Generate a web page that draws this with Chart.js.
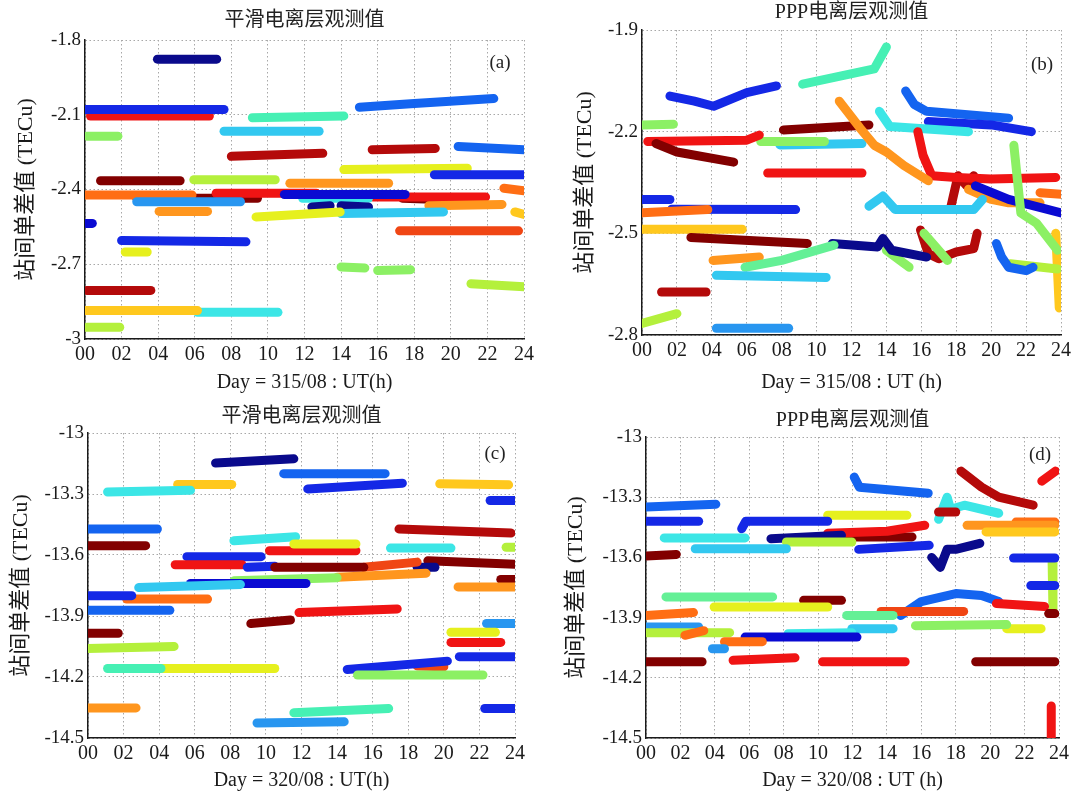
<!DOCTYPE html>
<html>
<head>
<meta charset="utf-8">
<title>站间单差值</title>
<script src="https://cdn.jsdelivr.net/npm/chart.js@4.4.1/dist/chart.umd.min.js"></script>
<style>
  body { margin: 0; background: #fff; }
  .panel { position: absolute; }
</style>
</head>
<body>
<div class="panel" style="left:0;top:0"><canvas id="chartA" width="540" height="395"></canvas></div>
<div class="panel" style="left:540px;top:0"><canvas id="chartB" width="537" height="395"></canvas></div>
<div class="panel" style="left:0;top:395px"><canvas id="chartC" width="540" height="398"></canvas></div>
<div class="panel" style="left:540px;top:395px"><canvas id="chartD" width="537" height="398"></canvas></div>
<script>
// x axis: hours of the day
const hourTicks = [0, 2, 4, 6, 8, 10, 12, 14, 16, 18, 20, 22, 24];
const hourLabels = ['00', '02', '04', '06', '08', '10', '12', '14', '16', '18', '20', '22', '24'];

// y axis ticks for each panel
const yTicksA = [-3, -2.7, -2.4, -2.1, -1.8];
const yLabelsA = ['-3', '-2.7', '-2.4', '-2.1', '-1.8'];
const yTicksB = [-2.8, -2.5, -2.2, -1.9];
const yLabelsB = ['-2.8', '-2.5', '-2.2', '-1.9'];
const yTicksCD = [-14.5, -14.2, -13.9, -13.6, -13.3, -13];
const yLabelsCD = ['-14.5', '-14.2', '-13.9', '-13.6', '-13.3', '-13'];

// each arc: [colour, hour, value, hour, value, ...]
const arcsA = [
    ['gold', 0, -2.886, 6.15, -2.886],
    ['cyan', 6.15, -2.893, 10.55, -2.893],
    ['lime', 0.1, -2.953, 1.9, -2.953],
    ['dkred', 0.1, -2.805, 3.6, -2.805],
    ['ltgreen', 14, -2.711, 15.3, -2.715],
    ['ltgreen', 16.0, -2.725, 17.8, -2.722],
    ['lime', 21.1, -2.778, 24, -2.79],
    ['yellow', 2.2, -2.651, 3.4, -2.651],
    ['blue', 2.0, -2.605, 8.8, -2.61],
    ['dkblue', 0.05, -2.536, 0.4, -2.536],
    ['redorange', 17.2, -2.566, 23.7, -2.566],
    ['orange', 4.05, -2.488, 6.7, -2.488],
    ['yellow', 9.35, -2.51, 13.95, -2.49],
    ['gold', 23.5, -2.49, 24, -2.5],
    ['sky', 2.83, -2.449, 8.5, -2.449],
    ['ltcyan', 14, -2.496, 19.6, -2.49],
    ['navy', 12.4, -2.47, 13.4, -2.465],
    ['navy', 14.0, -2.465, 15.5, -2.47],
    ['orange', 18.8, -2.465, 22.8, -2.46],
    ['dorange', 0, -2.422, 5.85, -2.422],
    ['dkblue', 10.9, -2.42, 17.5, -2.42],
    ['cyan', 11.9, -2.435, 15.5, -2.435],
    ['red', 7.17, -2.415, 12.64, -2.415],
    ['maroon', 2.83, -2.435, 9.43, -2.435],
    ['red', 15.75, -2.43, 21.9, -2.43],
    ['maroon', 17.35, -2.435, 19.4, -2.44],
    ['dorange', 22.9, -2.395, 24, -2.405],
    ['orange', 11.2, -2.375, 16.6, -2.375],
    ['lime', 5.95, -2.361, 10.4, -2.361],
    ['maroon', 0.85, -2.365, 5.2, -2.365],
    ['blue', 19.1, -2.341, 24, -2.341],
    ['yellow', 14.15, -2.32, 20.9, -2.315],
    ['dkred', 8.0, -2.267, 13.0, -2.255],
    ['dkred', 15.7, -2.24, 19.15, -2.235],
    ['azure', 20.4, -2.227, 24, -2.24],
    ['ltcyan', 7.6, -2.166, 12.8, -2.166],
    ['ltgreen', 0.1, -2.186, 1.8, -2.186],
    ['aqua', 9.15, -2.112, 14.15, -2.105],
    ['blue', 0, -2.079, 7.6, -2.079],
    ['red', 0.3, -2.105, 6.8, -2.105],
    ['azure', 15.0, -2.07, 18, -2.055, 22.35, -2.035],
    ['navy', 3.96, -1.877, 7.2, -1.877]
];

const arcsB = [
    ['lime', 0, -2.766, 2.0, -2.737],
    ['sky', 4.26, -2.78, 8.4, -2.78],
    ['dkred', 1.12, -2.673, 3.67, -2.673],
    ['ltcyan', 4.26, -2.624, 10.55, -2.63],
    ['mint', 5.9, -2.6, 8, -2.58, 11, -2.535],
    ['orange', 4.07, -2.58, 6.72, -2.57],
    ['maroon', 2.8, -2.512, 9.47, -2.53],
    ['navy', 10.9, -2.53, 13.5, -2.54, 13.8, -2.515, 14.3, -2.55, 16.3, -2.57],
    ['ltgreen', 14, -2.55, 15.3, -2.6],
    ['ltgreen', 16.15, -2.5, 17.5, -2.58],
    ['dkred', 15.95, -2.49, 16.4, -2.56, 17, -2.575, 18, -2.555, 19, -2.545, 19.2, -2.5],
    ['azure', 20.3, -2.53, 20.6, -2.57, 21, -2.6, 22, -2.61, 22.4, -2.6],
    ['lime', 21.1, -2.59, 23.8, -2.605],
    ['ltgreen', 21.3, -2.24, 21.7, -2.44, 22.6, -2.47, 23.8, -2.55],
    ['gold', 0, -2.488, 5.74, -2.488],
    ['dorange', 0, -2.439, 3.77, -2.43],
    ['blue', 0, -2.4, 1.6, -2.4],
    ['blue', 1.7, -2.429, 8.8, -2.43],
    ['ltcyan', 13, -2.42, 13.8, -2.39, 14.5, -2.43, 19, -2.43, 19.5, -2.4],
    ['dkblue', 19.1, -2.36, 21, -2.4, 22.5, -2.42, 24, -2.44],
    ['orange', 18.7, -2.37, 20, -2.4, 21, -2.41, 22.8, -2.41],
    ['dorange', 22.8, -2.38, 24, -2.385],
    ['red', 7.2, -2.322, 12.6, -2.322],
    ['orange', 11.3, -2.11, 12.5, -2.19, 13.3, -2.24, 14, -2.26, 15, -2.3, 16.4, -2.345],
    ['red', 15.8, -2.2, 16.1, -2.27, 16.6, -2.33, 18, -2.335, 20, -2.34, 23.7, -2.335],
    ['dkred', 17.7, -2.42, 18.1, -2.33, 18.6, -2.36, 19, -2.33],
    ['maroon', 0.8, -2.235, 2, -2.26, 5.25, -2.29],
    ['red', 0.33, -2.229, 6, -2.225, 6.72, -2.21],
    ['ltgreen', 6.8, -2.229, 10.45, -2.229],
    ['ltcyan', 7.9, -2.239, 12.6, -2.235],
    ['maroon', 8.1, -2.195, 13.0, -2.18],
    ['ltgreen', 0, -2.18, 1.8, -2.178],
    ['cyan', 13.6, -2.14, 14.2, -2.185, 18.7, -2.2],
    ['blue', 16.4, -2.17, 20, -2.18, 22.3, -2.2],
    ['azure', 15.1, -2.08, 15.6, -2.12, 16.3, -2.14, 21, -2.16],
    ['aqua', 9.2, -2.06, 13.3, -2.015, 14, -1.95],
    ['blue', 1.6, -2.095, 3, -2.11, 4.1, -2.125, 6, -2.085, 7.7, -2.065],
    ['gold', 23.7, -2.5, 23.9, -2.72]
];

const arcsC = [
    ['orange', 0, -14.352, 2.7, -14.352],
    ['sky', 9.5, -14.426, 14.4, -14.42],
    ['aqua', 11.57, -14.376, 16.9, -14.355],
    ['blue', 22.3, -14.355, 24, -14.355],
    ['ltgreen', 15.15, -14.19, 22.2, -14.19],
    ['aqua', 1.1, -14.158, 4.1, -14.158],
    ['yellow', 3.88, -14.158, 10.5, -14.158],
    ['blue', 14.57, -14.163, 20.2, -14.122],
    ['redorange', 18.5, -14.146, 20, -14.15],
    ['lime', 0, -14.06, 4.84, -14.05],
    ['blue', 20.87, -14.1, 24, -14.1],
    ['red', 20.4, -14.03, 23.2, -14.03],
    ['yellow', 20.4, -13.98, 22.9, -13.98],
    ['maroon', 0, -13.985, 1.7, -13.985],
    ['maroon', 9.15, -13.937, 11.38, -13.92],
    ['sky', 22.4, -13.937, 24, -13.937],
    ['azure', 0, -13.872, 4.6, -13.872],
    ['red', 11.86, -13.883, 17.38, -13.865],
    ['blue', 0, -13.80, 2.46, -13.80],
    ['dorange', 2.17, -13.817, 6.72, -13.817],
    ['orange', 20.8, -13.757, 24, -13.757],
    ['ltcyan', 2.85, -13.76, 8.57, -13.745],
    ['dkblue', 5.76, -13.74, 12.25, -13.74],
    ['ltgreen', 8.2, -13.727, 14, -13.712],
    ['maroon', 23.2, -13.72, 24, -13.72],
    ['orange', 14, -13.71, 19, -13.69],
    ['maroon', 10.5, -13.66, 15.5, -13.66],
    ['blue', 8.95, -13.66, 10.5, -13.655],
    ['redorange', 15.5, -13.66, 18.5, -13.635],
    ['navy', 18.5, -13.66, 19.5, -13.66],
    ['maroon', 19.1, -13.628, 24, -13.645],
    ['red', 4.9, -13.648, 8.66, -13.648],
    ['blue', 5.56, -13.608, 9.73, -13.608],
    ['yellow', 11.57, -13.546, 15.06, -13.546],
    ['red', 10.2, -13.579, 15.06, -13.579],
    ['cyan', 8.2, -13.53, 11.67, -13.51],
    ['cyan', 17, -13.566, 20.4, -13.566],
    ['lime', 23.5, -13.562, 24, -13.562],
    ['dkred', 17.48, -13.472, 23.78, -13.492],
    ['maroon', 0, -13.554, 3.24, -13.554],
    ['azure', 0, -13.472, 3.9, -13.472],
    ['blue', 22.6, -13.332, 24, -13.332],
    ['cyan', 1.1, -13.29, 5.76, -13.282],
    ['gold', 5.04, -13.253, 8.08, -13.253],
    ['gold', 19.77, -13.25, 23.64, -13.255],
    ['blue', 12.35, -13.275, 17.67, -13.247],
    ['azure', 11, -13.2, 16.7, -13.2],
    ['navy', 7.17, -13.148, 11.57, -13.127]
];

const arcsD = [
    ['maroon', 0, -14.12, 3.26, -14.12],
    ['red', 5.06, -14.113, 8.66, -14.1],
    ['red', 10.26, -14.12, 15.06, -14.12],
    ['maroon', 19.16, -14.12, 23.76, -14.12],
    ['sky', 3.86, -14.055, 4.56, -14.055],
    ['dorange', 4.56, -14.02, 6.76, -14.02],
    ['dkblue', 5.76, -13.997, 12.26, -13.997],
    ['cyan', 8.26, -13.98, 11.96, -13.975],
    ['ltcyan', 11.96, -13.955, 14.36, -13.955],
    ['dorange', 2.26, -13.988, 3.36, -13.965],
    ['lime', 0, -13.975, 4.86, -13.975],
    ['sky', 0, -13.947, 3.06, -13.947],
    ['ltgreen', 15.66, -13.94, 20.96, -13.935],
    ['yellow', 20.96, -13.955, 22.96, -13.955],
    ['mint', 11.66, -13.889, 14.36, -13.889],
    ['dorange', 0, -13.889, 2.76, -13.875],
    ['redorange', 13.66, -13.869, 18.46, -13.869],
    ['maroon', 23.4, -13.88, 23.76, -13.88],
    ['red', 20.36, -13.83, 23.16, -13.845],
    ['azure', 14.8, -13.89, 16, -13.82, 18, -13.78, 19.5, -13.79, 20.5, -13.82],
    ['yellow', 3.96, -13.847, 10.56, -13.847],
    ['maroon', 9.16, -13.814, 11.36, -13.814],
    ['mint', 1.16, -13.797, 7.36, -13.797],
    ['blue', 22.36, -13.74, 23.76, -13.74],
    ['blue', 21.36, -13.603, 23.76, -13.603],
    ['maroon', 0, -13.593, 1.76, -13.585],
    ['navy', 16.6, -13.6, 17.1, -13.65, 17.5, -13.56, 18, -13.56, 19.4, -13.53],
    ['blue', 12.36, -13.56, 16.46, -13.54],
    ['ltcyan', 2.86, -13.557, 8.16, -13.557],
    ['lime', 8.16, -13.523, 11.96, -13.523],
    ['navy', 7.26, -13.507, 11.36, -13.49],
    ['cyan', 1.06, -13.503, 5.76, -13.503],
    ['red', 10.56, -13.48, 14, -13.47, 16.2, -13.44],
    ['maroon', 10.56, -13.498, 15.46, -13.498],
    ['gold', 19.76, -13.473, 23.76, -13.473],
    ['orange', 18.66, -13.44, 23.76, -13.44],
    ['dorange', 21.5, -13.424, 23.76, -13.424],
    ['blue', 5.56, -13.457, 5.8, -13.42, 10.56, -13.42],
    ['yellow', 10.56, -13.39, 15.16, -13.39],
    ['dkred', 17, -13.374, 18, -13.374],
    ['blue', 0, -13.42, 3.06, -13.42],
    ['azure', 0, -13.349, 4.06, -13.335],
    ['cyan', 17, -13.41, 17.5, -13.3, 17.7, -13.36, 18.5, -13.34, 20.5, -13.38],
    ['azure', 12.1, -13.2, 12.4, -13.25, 16.4, -13.28],
    ['dkred', 18.3, -13.17, 19.5, -13.25, 20.5, -13.3, 22.5, -13.34],
    ['red', 23, -13.22, 23.8, -13.17],
    ['lime', 23.6, -13.62, 23.65, -13.87],
    ['red', 23.55, -14.34, 23.55, -14.5]
];

// jet-like colours as they appear in the figure
const palette = {
    navy: '#0a0a8c', dkblue: '#0a0ad2', blue: '#1428e6', azure: '#1464f0',
    sky: '#2896f0', ltcyan: '#32c8f0', cyan: '#3ce6e6', aqua: '#46f0b4',
    mint: '#64f096', ltgreen: '#8cf064', lime: '#b4f03c', yellow: '#e6f01e',
    gold: '#ffc81e', orange: '#ff961e', dorange: '#ff6e14', redorange: '#f04614',
    red: '#f01414', dkred: '#b40a0a', maroon: '#820000'
};

const serif = '"Liberation Serif", "Noto Sans CJK SC", serif';

// title and panel letter
const panelText = {
    id: 'panelText',
    afterDraw(chart, args, opts) {
        const { ctx, chartArea } = chart;
        ctx.save();
        ctx.fillStyle = '#222';
        ctx.textAlign = 'center';
        ctx.textBaseline = 'middle';
        ctx.font = '20px ' + serif;
        ctx.fillText(opts.title, (chartArea.left + chartArea.right) / 2, opts.titleY);
        ctx.font = '19px ' + serif;
        ctx.fillText(opts.tag, chartArea.right - opts.tagDx, chartArea.top + opts.tagDy);
        ctx.restore();
    }
};

function toDatasets(arcs) {
    return arcs.map(arc => {
        const pts = [];
        for (let i = 1; i < arc.length; i += 2) {
            pts.push({ x: arc[i], y: arc[i + 1] });
        }
        return {
            data: pts,
            showLine: true,
            borderColor: palette[arc[0]],
            backgroundColor: palette[arc[0]],
            borderWidth: 9,
            borderCapStyle: 'round',
            borderJoinStyle: 'round',
            pointRadius: 0
        };
    });
}

function makeChart(id, cfg) {
    const canvas = document.getElementById(id);
    const H = canvas.height;
    const W = canvas.width;
    return new Chart(canvas, {
        type: 'scatter',
        data: { datasets: toDatasets(cfg.arcs) },
        options: {
            responsive: false,
            animation: false,
            layout: { padding: { top: cfg.area.top, right: W - cfg.area.right, left: 0, bottom: 0 } },
            plugins: {
                legend: { display: false },
                tooltip: { enabled: false },
                panelText: { title: cfg.title, titleY: cfg.titleY, tag: cfg.tag, tagDx: cfg.tagDx, tagDy: cfg.tagDy }
            },
            scales: {
                x: {
                    type: 'linear',
                    min: 0,
                    max: 24,
                    afterBuildTicks: s => { s.ticks = hourTicks.map(v => ({ value: v })); },
                    afterFit: s => { s.height = H - cfg.area.bottom; s.paddingLeft = 0; s.paddingRight = 0; },
                    ticks: {
                        autoSkip: false,
                        maxRotation: 0,
                        padding: 4,
                        color: '#1a1a1a',
                        font: { family: serif, size: 20 },
                        callback: (v, i) => hourLabels[i]
                    },
                    grid: { color: '#a8a8a8', lineWidth: 1, drawTicks: false },
                    border: { display: true, color: '#1a1a1a', width: 1.5, dash: [1.5, 2.5] },
                    title: {
                        display: true,
                        text: cfg.xTitle,
                        color: '#1a1a1a',
                        font: { family: serif, size: 20 },
                        padding: { top: 0, bottom: 0 }
                    }
                },
                y: {
                    type: 'linear',
                    min: cfg.yTicks[0],
                    max: cfg.yTicks[cfg.yTicks.length - 1],
                    afterBuildTicks: s => { s.ticks = cfg.yTicks.map(v => ({ value: v })); },
                    afterFit: s => { s.width = cfg.area.left; s.paddingTop = 0; s.paddingBottom = 0; },
                    ticks: {
                        padding: 4,
                        color: '#1a1a1a',
                        font: { family: serif, size: 19 },
                        callback: (v, i) => cfg.yLabels[i]
                    },
                    grid: { color: '#a8a8a8', lineWidth: 1, drawTicks: false },
                    border: { display: true, color: '#1a1a1a', width: 1.5, dash: [1.5, 2.5] },
                    title: {
                        display: true,
                        text: '站间单差值 (TECu)',
                        color: '#1a1a1a',
                        font: { family: serif, size: 22 },
                        padding: { top: cfg.yTitlePad, bottom: 0 }
                    }
                }
            }
        },
        plugins: [panelText]
    });
}

makeChart('chartA', {
    arcs: arcsA, yTicks: yTicksA, yLabels: yLabelsA,
    area: { left: 85, top: 40, right: 524, bottom: 339 },
    title: '平滑电离层观测值', titleY: 21, tag: '(a)', tagDx: 24, tagDy: 23,
    xTitle: 'Day = 315/08 : UT(h)', yTitlePad: 13
});
makeChart('chartB', {
    arcs: arcsB, yTicks: yTicksB, yLabels: yLabelsB,
    area: { left: 102, top: 30, right: 521, bottom: 335 },
    title: 'PPP电离层观测值', titleY: 13, tag: '(b)', tagDx: 19, tagDy: 35,
    xTitle: 'Day = 315/08 : UT (h)', yTitlePad: 32
});
makeChart('chartC', {
    arcs: arcsC, yTicks: yTicksCD, yLabels: yLabelsCD,
    area: { left: 88, top: 38, right: 515, bottom: 343 },
    title: '平滑电离层观测值', titleY: 22, tag: '(c)', tagDx: 20, tagDy: 21,
    xTitle: 'Day = 320/08 : UT(h)', yTitlePad: 8
});
makeChart('chartD', {
    arcs: arcsD, yTicks: yTicksCD, yLabels: yLabelsCD,
    area: { left: 106, top: 42, right: 519, bottom: 343 },
    title: 'PPP电离层观测值', titleY: 26, tag: '(d)', tagDx: 19, tagDy: 18,
    xTitle: 'Day = 320/08 : UT (h)', yTitlePad: 23
});
</script>
</body>
</html>
